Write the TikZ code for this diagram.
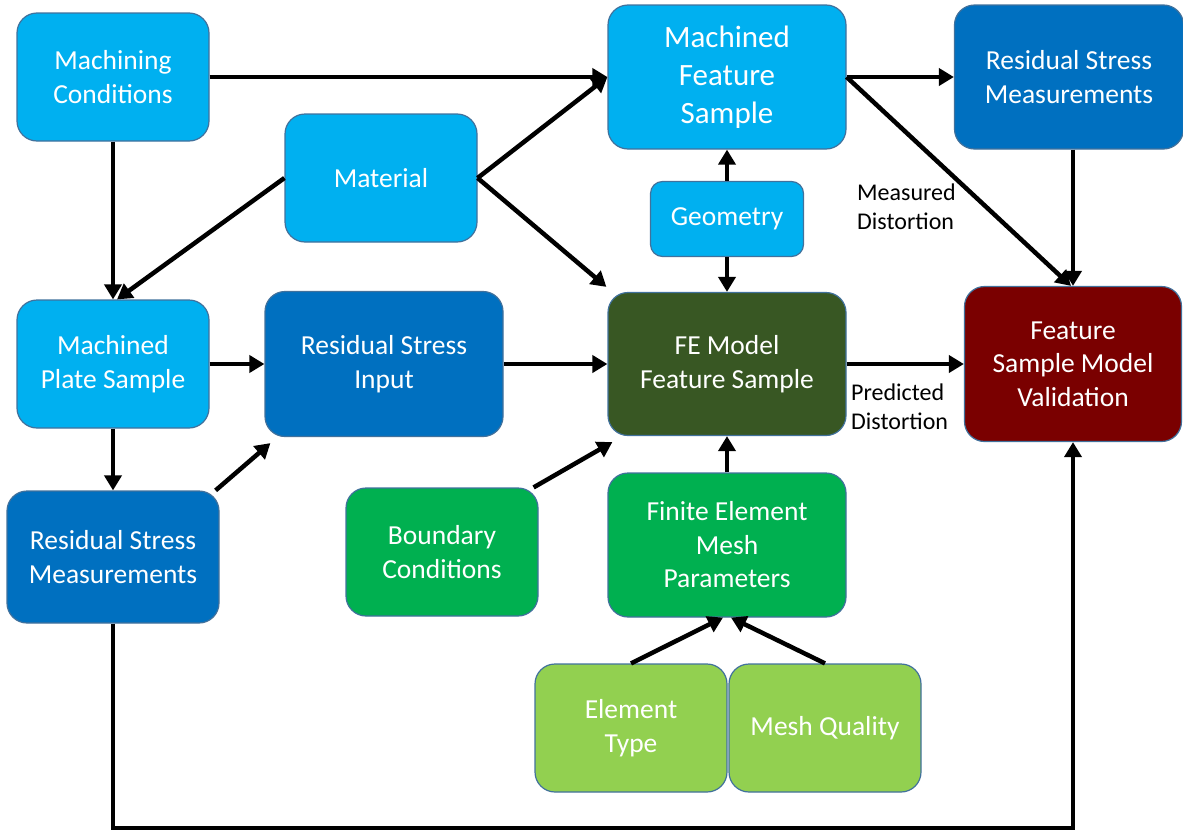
\documentclass[tikz,border=0pt]{standalone}
\usepackage{fontspec}
\setmainfont{Carlito}
\usepackage{tikz}
\usetikzlibrary{arrows.meta}
\usetikzlibrary{calc}

\definecolor{bleuclair}{HTML}{00B0F0}
\definecolor{bleufonce}{HTML}{0070C0}
\definecolor{vertfonce}{HTML}{385723}
\definecolor{rougefonce}{HTML}{7A0000}
\definecolor{vert}{HTML}{00B050}
\definecolor{vertclair}{HTML}{92D050}
\definecolor{bord}{HTML}{41719C}

\tikzset{
  boite/.style={rectangle, rounded corners=20, draw=bord, line width=1.2, text=white,
    align=center, inner sep=0, font=\fontsize{27.5}{33.5}\selectfont},
  fleche/.style={line width=4.5, -{Triangle[length=15,width=17]}},
  legende/.style={align=left, anchor=west, inner sep=0, font=\fontsize{24}{29}\selectfont},
}

\begin{document}
\begin{tikzpicture}[x=1pt,y=-1pt]
                \useasboundingbox (0,0) rectangle (1183,830);

                % colonne de gauche
                \node[boite, fill=bleuclair, minimum width=192, minimum height=128] (mc) at (113,77) {Machining\\Conditions};
                \node[boite, fill=bleuclair, minimum width=192, minimum height=128] (mps) at (113,364) {Machined\\Plate Sample};
                \node[boite, fill=bleufonce, minimum width=212, minimum height=132] (rsmg) at (113,557) {Residual Stress\\Measurements};

                % milieu
                \node[boite, fill=bleuclair, minimum width=192, minimum height=128] (mat) at (381,178) {Material};
                \node[boite, fill=bleufonce, minimum width=238, minimum height=145] (rsi) at (384,364) {Residual Stress\\Input};
                \node[boite, fill=vert, minimum width=192, minimum height=128] (bc) at (442,552) {Boundary\\Conditions};

                % colonne FE
                \node[boite, fill=bleuclair, minimum width=238, minimum height=144, font=\fontsize{31}{38}\selectfont] (mfs) at (727,77) {Machined\\Feature\\Sample};
                \node[boite, fill=bleuclair, rounded corners=12, minimum width=153, minimum height=75] (geo) at (727,219) {Geometry};
                \node[boite, fill=vertfonce, minimum width=238, minimum height=143] (fem) at (727,364) {FE Model\\Feature Sample};
                \node[boite, fill=vert, minimum width=238, minimum height=144] (mesh) at (727,545) {Finite Element\\Mesh\\Parameters};
                \node[boite, fill=vertclair, minimum width=192, minimum height=128] (et) at (631,728) {Element\\Type};
                \node[boite, fill=vertclair, minimum width=192, minimum height=128] (mq) at (825,728) {Mesh Quality};

                % colonne de droite
                \node[boite, fill=bleufonce, minimum width=229, minimum height=144] (rsmd) at (1069,77) {Residual Stress\\Measurements};
                \node[boite, fill=rougefonce, minimum width=217, minimum height=155] (val) at (1073,364) {Feature\\Sample Model\\Validation};

                % legendes
                \node[legende] (mesdist) at (857,207) {Measured\\Distortion};
                \node[legende] (preddist) at (851,407) {Predicted\\Distortion};

                % fleches
                \draw[fleche] (mc.east) -- (mfs.west);
                \draw[fleche] (mc.south) -- (mps.north);
                \draw[fleche] (mat.west) -- ([xshift=4]mps.north);
                \draw[fleche] (mat.east) -- (mfs.west);
                \draw[fleche] (mat.east) -- ([xshift=-1,yshift=5]fem.north west);
                \draw[fleche] (geo.north) -- (mfs.south);
                \draw[fleche] (geo.south) -- (fem.north);
                \draw[fleche] (mfs.east) -- (rsmd.west);
                \draw[fleche] (mfs.east) -- ([xshift=-2]val.north);
                \draw[fleche] (val.north |- rsmd.south) -- (val.north);
                \draw[fleche] (mps.east) -- (rsi.west);
                \draw[fleche] (rsi.east) -- (fem.west);
                \draw[fleche] (fem.east) -- (val.west);
                \draw[fleche] (mps.south) -- (rsmg.north);
                \draw[fleche] ([xshift=-4]rsmg.north east) -- ([xshift=6,yshift=-6]rsi.south west);
                \draw[fleche] ([xshift=-5]bc.north east) -- ([xshift=5,yshift=-6]fem.south west);
                \draw[fleche] (mesh.north) -- (fem.south);
                \draw[fleche] (et.north) -- ([xshift=-4]mesh.south);
                \draw[fleche] (mq.north) -- ([xshift=4]mesh.south);

                % retour par le bas
                \coordinate (bas) at (600,828);
                \draw[fleche] (rsmg.south) -- (rsmg.south |- bas) -- (val.south |- bas) -- (val.south);
            \end{tikzpicture}
\end{document}
